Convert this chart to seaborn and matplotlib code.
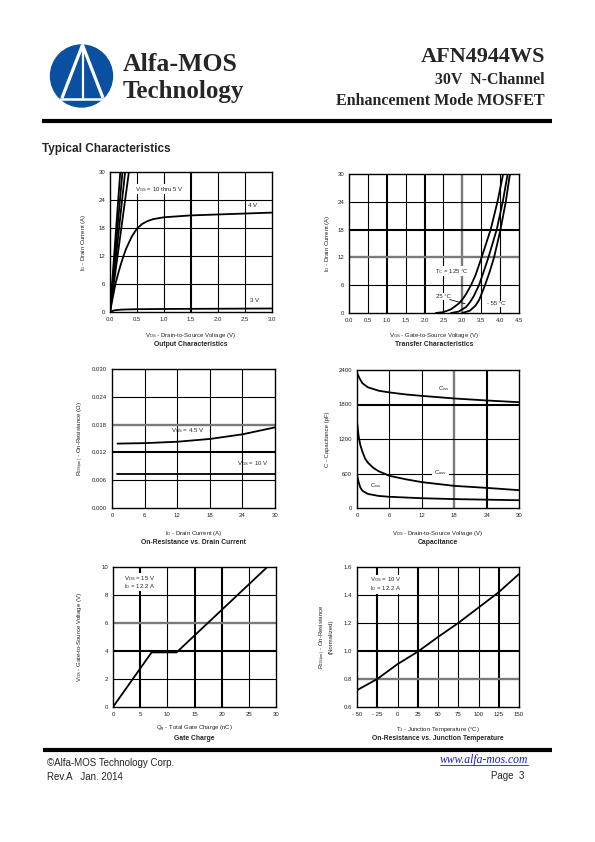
import matplotlib
matplotlib.use("Agg")
import matplotlib.pyplot as plt
import pandas as pd
import seaborn as sns
from matplotlib.patches import Circle

# ---------------- data ----------------
# Output characteristics
out_hi_vgs = ["10 V", "8 V", "6 V", "5 V"]
out_hi_vds = [0.19, 0.23, 0.28, 0.35]      # VDS where ID reaches 30 A
out_4v_vds = [0, 0.05, 0.1, 0.15, 0.2, 0.25, 0.3, 0.4, 0.5, 0.6, 0.7, 0.8, 1.0, 1.25, 1.5, 2.0, 2.5, 3.0]
out_4v_id = [0, 3, 6, 8.2, 10.2, 12, 13.6, 16.1, 17.9, 18.9, 19.5, 19.9, 20.3, 20.5, 20.7, 20.9, 21.1, 21.3]
out_3v_vds = [0, 0.05, 0.1, 0.2, 0.3, 0.5, 1.0, 2.0, 3.0]
out_3v_id = [0, 0.25, 0.4, 0.5, 0.55, 0.6, 0.65, 0.7, 0.75]

# Transfer characteristics
tr_125_vgs = [2.3, 2.5, 2.7, 2.9, 3.0, 3.1, 3.23, 3.35, 3.51, 3.63, 3.75, 3.93, 4.08, 4.15]
tr_125_id = [0, 0.2, 0.8, 2.0, 2.9, 4.1, 6, 8.2, 12, 15, 18, 24, 30, 33]
tr_25_vgs = [2.7, 2.9, 3.1, 3.2, 3.3, 3.44, 3.56, 3.69, 3.8, 3.91, 4.07, 4.2, 4.27]
tr_25_id = [0, 0.3, 1.3, 2.3, 3.6, 6, 8.8, 12, 15, 18, 24, 30, 33]
tr_m55_vgs = [3.0, 3.2, 3.35, 3.45, 3.6, 3.72, 3.84, 3.92, 4.01, 4.15, 4.26, 4.32]
tr_m55_id = [0, 0.5, 1.6, 2.9, 6, 8.8, 12, 14.8, 18, 24, 30, 33]

# On-resistance vs drain current
ron_id = [1, 6, 12, 18, 24, 30]
ron_45v = [0.0139, 0.0140, 0.0143, 0.0149, 0.0159, 0.0174]
ron_10v = [0.0074, 0.0074, 0.0074, 0.0074, 0.0074, 0.0074]

# Capacitance
cap_ciss_v = [0, 0.5, 1, 2, 4, 6, 9, 12, 18, 24, 30]
cap_ciss = [2350, 2250, 2170, 2100, 2040, 2010, 1975, 1950, 1905, 1870, 1840]
cap_coss_v = [0, 0.3, 0.6, 1, 1.5, 2, 3, 4, 6, 9, 12, 18, 24, 30]
cap_coss = [1500, 1250, 1100, 980, 860, 790, 700, 640, 560, 500, 450, 385, 350, 310]
cap_crss_v = [0, 0.3, 0.6, 1, 2, 4, 6, 12, 18, 24, 30]
cap_crss = [580, 450, 360, 300, 245, 210, 195, 170, 155, 145, 135]

# Gate charge
gc_qg = [0, 7.1, 11.7, 28.4]
gc_vgs = [0, 3.9, 3.9, 10]

# On-resistance vs junction temperature
tj_temp = [-50, -25, 0, 25, 50, 75, 100, 125, 150]
tj_ron = [0.72, 0.80, 0.906, 0.995, 1.10, 1.20, 1.31, 1.42, 1.55]

# ---------------- style ----------------
sns.set_style("white")
plt.rcParams['font.family'] = ['Liberation Sans', 'DejaVu Sans']
plt.rcParams['mathtext.fontset'] = 'custom'
plt.rcParams['mathtext.rm'] = 'Liberation Sans'
plt.rcParams['mathtext.it'] = 'Liberation Sans:italic'
plt.rcParams['mathtext.bf'] = 'Liberation Sans:bold'

W, H = 595, 842
fig = plt.figure(figsize=(W / 100, H / 100), dpi=100)
fig.patch.set_facecolor('white')

bg = fig.add_axes([0, 0, 1, 1])
bg.set_xlim(0, W)
bg.set_ylim(H, 0)
bg.axis('off')

SERIF = ['Liberation Serif', 'DejaVu Serif']
FS = 4.3
LW = 1.3

# ---- header ----
bg.add_patch(Circle((81.5, 76), 31, color='#0b4fa0', zorder=2))
bg.plot([82.5, 62], [45, 98], color='white', lw=2.3, zorder=3, solid_capstyle='butt')
bg.plot([82.5, 103], [45, 98], color='white', lw=2.3, zorder=3, solid_capstyle='butt')
bg.plot([82.5, 82.5], [45, 98], color='white', lw=1.6, zorder=3)
bg.plot([60, 103.5], [98.5, 98.5], color='white', lw=1.8, zorder=3)
bg.text(123, 71, "Alfa-MOS", family=SERIF, weight='bold', fontsize=18.5, va='baseline', ha='left')
bg.text(123, 98, "Technology", family=SERIF, weight='bold', fontsize=18, va='baseline', ha='left')
bg.text(545, 62, "AFN4944WS", family=SERIF, weight='bold', fontsize=16, va='baseline', ha='right')
bg.text(545, 84, "30V  N-Channel", family=SERIF, weight='bold', fontsize=11.5, va='baseline', ha='right')
bg.text(545, 105, "Enhancement Mode MOSFET", family=SERIF, weight='bold', fontsize=11.5, va='baseline', ha='right')
bg.plot([42, 552], [121, 121], color='black', lw=3.0, solid_capstyle='butt')
bg.text(42, 152, "Typical Characteristics", weight='bold', fontsize=8.5, va='baseline', ha='left')

# ---- footer ----
bg.plot([43, 552], [750, 750], color='black', lw=3.0, solid_capstyle='butt')
bg.text(47, 766, "\u00a9Alfa-MOS Technology Corp.", fontsize=7, va='baseline', ha='left')
bg.text(47, 780, "Rev.A   Jan. 2014", fontsize=7, va='baseline', ha='left')
bg.text(528, 763, "www.alfa-mos.com", family=SERIF, style='italic', fontsize=8.4,
        color='#1a1acc', va='baseline', ha='right')
bg.plot([440, 528], [765, 765], color='#1a1acc', lw=0.6)
bg.text(524, 779, "Page  3", fontsize=7, va='baseline', ha='right')


def make_ax(l, t, r, b):
    return fig.add_axes([l / W, 1 - b / H, (r - l) / W, (b - t) / H])


def style(ax, xlim, ylim, xticks, yticks, xlabels, ylabels, thick=(), gray=()):
    ax.set_xlim(*xlim)
    ax.set_ylim(*ylim)
    ax.set_xticks(xticks)
    ax.set_xticklabels(xlabels)
    ax.set_yticks(yticks)
    ax.set_yticklabels(ylabels)
    ax.tick_params(length=0, labelsize=FS, colors='#222222', pad=3.5)
    ax.set_xlabel('')
    ax.set_ylabel('')
    for x in xticks[1:-1]:
        if ('v', x) in gray:
            ax.axvline(x, color='#7a7a7a', lw=1.7, zorder=1)
        else:
            ax.axvline(x, color='black', lw=1.5 if ('v', x) in thick else 0.8, zorder=1)
    for y in yticks[1:-1]:
        if ('h', y) in gray:
            ax.axhline(y, color='#7a7a7a', lw=1.7, zorder=1)
        else:
            ax.axhline(y, color='black', lw=1.5 if ('h', y) in thick else 0.8, zorder=1)
    for s in ax.spines.values():
        s.set_color('black')
        s.set_linewidth(1.0)


def labels(l, r, t, b, xl_y, ti_y, yl_x, xlabel, title, ylabel):
    cx = (l + r) / 2
    bg.text(cx, xl_y, xlabel, fontsize=FS, ha='center', va='center', color='#222222')
    bg.text(cx, ti_y, title, fontsize=4.9, weight='bold', ha='center', va='center')
    bg.text(yl_x, (t + b) / 2, ylabel, fontsize=FS, ha='center', va='center',
            rotation=90, color='#222222', multialignment='center')


def curve(ax, x, y):
    sns.lineplot(x=x, y=y, ax=ax, color='black', lw=LW, estimator=None, sort=False, zorder=3)


# ---- Output characteristics ----
box = (110, 172, 272, 312)
ax = make_ax(*box)
for v, xe in zip(out_hi_vgs, out_hi_vds):
    curve(ax, [0, xe], [0, 30])
curve(ax, out_4v_vds, out_4v_id)
curve(ax, out_3v_vds, out_3v_id)
style(ax, (0, 3), (0, 30), [0, 0.5, 1, 1.5, 2, 2.5, 3], [0, 6, 12, 18, 24, 30],
      ["0.0", "0.5", "1.0", "1.5", "2.0", "2.5", "3.0"], ["0", "6", "12", "18", "24", "30"],
      thick=[('v', 1.5)])
ax.text(0.46, 26.3, r"V$_{\mathrm{GS}}$ = 10 thru 5 V", fontsize=FS, va='center', ha='left',
        bbox=dict(facecolor='white', edgecolor='none', pad=0.5), zorder=4)
ax.text(2.56, 22.8, "4 V", fontsize=FS, va='center', ha='left', zorder=4)
ax.text(2.6, 2.5, "3 V", fontsize=FS, va='center', ha='left', zorder=4)
labels(box[0], box[2], box[1], box[3], 335, 345, 84,
       r"V$_{\mathrm{DS}}$ - Drain-to-Source Voltage (V)", "Output Characteristics",
       r"I$_{\mathrm{D}}$ - Drain Current (A)")

# ---- Transfer characteristics ----
box = (349, 174, 519, 313)
ax = make_ax(*box)
curve(ax, tr_125_vgs, tr_125_id)
curve(ax, tr_25_vgs, tr_25_id)
curve(ax, tr_m55_vgs, tr_m55_id)
style(ax, (0, 4.5), (0, 30), [0, 0.5, 1, 1.5, 2, 2.5, 3, 3.5, 4, 4.5], [0, 6, 12, 18, 24, 30],
      ["0.0", "0.5", "1.0", "1.5", "2.0", "2.5", "3.0", "3.5", "4.0", "4.5"],
      ["0", "6", "12", "18", "24", "30"],
      thick=[('v', 1.0), ('v', 2.0), ('h', 18)], gray=[('v', 3.0), ('h', 12)])
ax.text(2.27, 9.0, r"T$_{\mathrm{C}}$ = 125 °C", fontsize=FS, va='center', ha='left',
        bbox=dict(facecolor='white', edgecolor='none', pad=0.5), zorder=4)
ax.text(2.3, 3.6, "25 °C", fontsize=FS, va='center', ha='left',
        bbox=dict(facecolor='white', edgecolor='none', pad=0.5), zorder=4)
ax.plot([2.67, 3.07], [2.9, 2.0], color='black', lw=0.6, zorder=4)
ax.text(3.66, 2.0, "- 55 °C", fontsize=FS, va='center', ha='left',
        bbox=dict(facecolor='white', edgecolor='none', pad=0.5), zorder=4)
labels(box[0], box[2], box[1], box[3], 336, 345, 327,
       r"V$_{\mathrm{GS}}$ - Gate-to-Source Voltage (V)", "Transfer Characteristics",
       r"I$_{\mathrm{D}}$ - Drain Current (A)")

# ---- On-resistance vs drain current ----
box = (112, 369, 275, 508)
ax = make_ax(*box)
curve(ax, ron_id, ron_45v)
curve(ax, ron_id, ron_10v)
style(ax, (0, 30), (0, 0.030), [0, 6, 12, 18, 24, 30], [0, 0.006, 0.012, 0.018, 0.024, 0.030],
      ["0", "6", "12", "18", "24", "30"], ["0.000", "0.006", "0.012", "0.018", "0.024", "0.030"],
      thick=[('h', 0.012)], gray=[('h', 0.018)])
ax.text(10.8, 0.0167, r"V$_{\mathrm{GS}}$ = 4.5 V", fontsize=FS, va='center', ha='left', zorder=4)
ax.text(23.0, 0.0096, r"V$_{\mathrm{GS}}$ = 10 V", fontsize=FS, va='center', ha='left', zorder=4)
labels(box[0], box[2], box[1], box[3], 533, 543, 81,
       r"I$_{\mathrm{D}}$ - Drain Current (A)", "On-Resistance vs. Drain Current",
       r"R$_{\mathrm{DS(on)}}$ - On-Resistance ($\Omega$)")

# ---- Capacitance ----
box = (357, 370, 519, 508)
ax = make_ax(*box)
curve(ax, cap_ciss_v, cap_ciss)
curve(ax, cap_coss_v, cap_coss)
curve(ax, cap_crss_v, cap_crss)
style(ax, (0, 30), (0, 2400), [0, 6, 12, 18, 24, 30], [0, 600, 1200, 1800, 2400],
      ["0", "6", "12", "18", "24", "30"], ["0", "600", "1200", "1800", "2400"],
      thick=[('v', 24), ('h', 1800)], gray=[('v', 18)])
ax.text(15.0, 2080, r"C$_{\mathrm{iss}}$", fontsize=FS, va='center', ha='left', zorder=4)
ax.text(14.2, 610, r"C$_{\mathrm{oss}}$", fontsize=FS, va='center', ha='left', zorder=4,
        bbox=dict(facecolor='white', edgecolor='none', pad=1.5))
ax.text(2.4, 390, r"C$_{\mathrm{rss}}$", fontsize=FS, va='center', ha='left', zorder=4)
labels(box[0], box[2], box[1], box[3], 534, 543, 327,
       r"V$_{\mathrm{DS}}$ - Drain-to-Source Voltage (V)", "Capacitance",
       "C - Capacitance (pF)")

# ---- Gate charge ----
box = (113, 567, 276, 707)
ax = make_ax(*box)
curve(ax, gc_qg, gc_vgs)
style(ax, (0, 30), (0, 10), [0, 5, 10, 15, 20, 25, 30], [0, 2, 4, 6, 8, 10],
      ["0", "5", "10", "15", "20", "25", "30"], ["0", "2", "4", "6", "8", "10"],
      thick=[('v', 5), ('v', 15), ('v', 20), ('h', 4)], gray=[('h', 6)])
ax.text(2.1, 9.2, r"V$_{\mathrm{DS}}$ = 15 V", fontsize=FS, va='center', ha='left', zorder=4,
        bbox=dict(facecolor='white', edgecolor='none', pad=0.3))
ax.text(2.1, 8.6, r"I$_{\mathrm{D}}$ = 12.2 A", fontsize=FS, va='center', ha='left', zorder=4,
        bbox=dict(facecolor='white', edgecolor='none', pad=0.3))
labels(box[0], box[2], box[1], box[3], 729, 738, 80,
       r"Q$_{\mathrm{g}}$ - Total Gate Charge (nC)", "Gate Charge",
       r"V$_{\mathrm{GS}}$ - Gate-to-Source Voltage (V)")

# ---- On-resistance vs junction temperature ----
box = (357, 567, 519, 707)
ax = make_ax(*box)
curve(ax, tj_temp, tj_ron)
style(ax, (-50, 150), (0.6, 1.6), [-50, -25, 0, 25, 50, 75, 100, 125, 150],
      [0.6, 0.8, 1.0, 1.2, 1.4, 1.6],
      ["- 50", "- 25", "0", "25", "50", "75", "100", "125", "150"],
      ["0.6", "0.8", "1.0", "1.2", "1.4", "1.6"],
      thick=[('v', -25), ('v', 25), ('v', 125), ('h', 1.0)], gray=[('h', 0.8)])
ax.text(-34, 1.51, r"V$_{\mathrm{GS}}$ = 10 V", fontsize=FS, va='center', ha='left', zorder=4,
        bbox=dict(facecolor='white', edgecolor='none', pad=0.3))
ax.text(-34, 1.445, r"I$_{\mathrm{D}}$ = 12.2 A", fontsize=FS, va='center', ha='left', zorder=4,
        bbox=dict(facecolor='white', edgecolor='none', pad=0.3))
labels(box[0], box[2], box[1], box[3], 729, 738, 326,
       r"T$_{\mathrm{J}}$ - Junction Temperature (°C)", "On-Resistance vs. Junction Temperature",
       "R$_{\\mathrm{DS(on)}}$ - On-Resistance\n(Normalized)")

fig.savefig("out.png", dpi=100, facecolor='white')
